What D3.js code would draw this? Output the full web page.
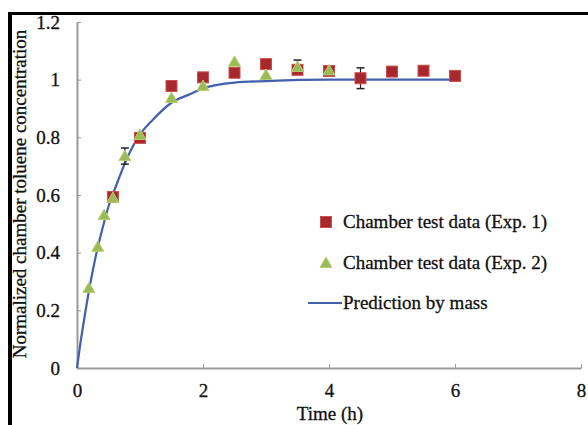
<!DOCTYPE html>
<html lang="en">
  <head>
    <meta charset="utf-8">
    <title>Chamber toluene</title>
    <script src="https://d3js.org/d3.v7.min.js"></script>
    <style>
      body { margin: 0; background: #fff; }
      svg text { font-family: "Liberation Serif", "Times New Roman", serif; fill: #111; stroke: #111; stroke-width: 0.3; }
    </style>
  </head>

  <body>

  <script>

// data

  var exp1Time = [0.57, 1.0, 1.5, 2.0, 2.5, 3.0, 3.5, 4.0, 4.5, 5.0, 5.5, 6.0];
  var exp1Conc = [0.593, 0.798, 0.978, 1.008, 1.024, 1.054, 1.034, 1.03, 1.005, 1.028, 1.031, 1.013];
  var exp1Err  = [0, 0, 0, 0, 0, 0, 0, 0, 0.036, 0, 0, 0];

  var exp2Time = [0.19, 0.33, 0.43, 0.57, 0.76, 1.0, 1.5, 2.0, 2.5, 3.0, 3.5, 4.0];
  var exp2Conc = [0.277, 0.42, 0.53, 0.59, 0.735, 0.808, 0.936, 0.978, 1.062, 1.016, 1.044, 1.032];
  var exp2Err  = [0, 0, 0, 0, 0.028, 0, 0, 0, 0, 0, 0.024, 0];

  var predTime = [0, 0.05, 0.1, 0.2, 0.3, 0.4, 0.5, 0.6, 0.8, 1.0, 1.2, 1.5, 1.8, 2.0, 2.5, 3.0, 4.0, 5.0, 6.0];
  var predConc = [0, 0.08, 0.15, 0.28, 0.39, 0.48, 0.56, 0.62, 0.73, 0.81, 0.86, 0.92, 0.95, 0.97, 0.99, 0.995, 1.0, 1.0, 1.0];

  var xTicks = [0, 2, 4, 6, 8];
  var yTicks = [0, 0.2, 0.4, 0.6, 0.8, 1, 1.2];

  var legendLabels = ["Chamber test data (Exp. 1)", "Chamber test data (Exp. 2)", "Prediction by mass"];

  var w = 588;
  var h = 425;

  var svg = d3.select("body")
    .append("svg")
      .attr("width", w)
      .attr("height", h);

  // black frame on the left and top edges
  svg.append("rect").attr("x", 8).attr("y", 12).attr("width", 4).attr("height", h - 12).attr("fill", "#000");
  svg.append("rect").attr("x", 8).attr("y", 12).attr("width", w - 8).attr("height", 3).attr("fill", "#000");

  var xScale = d3.scaleLinear().domain([0, 8]).range([77, 581]);
  var yScale = d3.scaleLinear().domain([0, 1.2]).range([368, 22]);

  var axisColor = "#9a9a9a";

  // y axis
  var yAxis = svg.append("g")
      .attr("transform", "translate(" + xScale(0) + ",0)")
      .call(d3.axisLeft(yScale).tickValues(yTicks).tickSizeInner(-4).tickSizeOuter(0)
        .tickFormat(d3.format("~g")).tickPadding(17));
  yAxis.select(".domain").attr("stroke", axisColor).attr("stroke-width", 2);
  yAxis.selectAll(".tick line").attr("stroke", axisColor);
  yAxis.selectAll("text").attr("font-size", 19).attr("fill", "#111")
      .attr("font-family", "Liberation Serif, serif");

  // x axis
  var xAxis = svg.append("g")
      .attr("transform", "translate(0," + yScale(0) + ")")
      .call(d3.axisBottom(xScale).tickValues(xTicks).tickSizeInner(-4).tickSizeOuter(0).tickPadding(16));
  xAxis.select(".domain").attr("stroke", axisColor).attr("stroke-width", 2);
  xAxis.selectAll(".tick line").attr("stroke", axisColor);
  xAxis.selectAll("text").attr("font-size", 19).attr("fill", "#111")
      .attr("font-family", "Liberation Serif, serif");

  // axis titles
  svg.append("text")
      .attr("x", (xScale(0) + xScale(8)) / 2 + 1)
      .attr("y", 420)
      .attr("text-anchor", "middle")
      .attr("font-size", 19)
      .text("Time (h)");

  svg.append("text")
      .attr("transform", "translate(26," + 194 + ") rotate(-90)")
      .attr("text-anchor", "middle")
      .attr("font-size", 19)
      .text("Normalized chamber toluene concentration");

  // prediction curve
  var line = d3.line()
      .x((d, i) => xScale(predTime[i]))
      .y(d => yScale(d))
      .curve(d3.curveMonotoneX);

  svg.append("path")
      .datum(predConc)
      .attr("d", line)
      .attr("fill", "none")
      .attr("stroke", "#4360ad")
      .attr("stroke-width", 2.2);

  // error bars
  function errorBars(times, vals, errs) {
    var g = svg.append("g");
    times.forEach(function (t, i) {
      if (!errs[i]) return;
      var x = xScale(t);
      var y0 = yScale(vals[i] - errs[i]);
      var y1 = yScale(vals[i] + errs[i]);
      g.append("line").attr("x1", x).attr("x2", x).attr("y1", y0).attr("y2", y1)
        .attr("stroke", "#222").attr("stroke-width", 1.2);
      [y0, y1].forEach(function (y) {
        g.append("line").attr("x1", x - 4).attr("x2", x + 4).attr("y1", y).attr("y2", y)
          .attr("stroke", "#222").attr("stroke-width", 1.5);
      });
    });
  }
  errorBars(exp1Time, exp1Conc, exp1Err);
  errorBars(exp2Time, exp2Conc, exp2Err);

  var sq = 11;
  var redFill = "#a8282d";
  var redEdge = "#c9504f";
  var greenFill = "#9bbb59";
  var greenEdge = "#b8cc6e";

  // exp 1 squares
  svg.append("g").selectAll("rect")
    .data(exp1Conc)
    .enter().append("rect")
      .attr("x", (d, i) => xScale(exp1Time[i]) - sq / 2)
      .attr("y", d => yScale(d) - sq / 2)
      .attr("width", sq)
      .attr("height", sq)
      .attr("fill", redFill)
      .attr("stroke", redEdge)
      .attr("stroke-width", 1);

  // exp 2 triangles
  var tri = d3.symbol().type(d3.symbolTriangle).size(62);
  svg.append("g").selectAll("path")
    .data(exp2Conc)
    .enter().append("path")
      .attr("d", tri)
      .attr("transform", (d, i) => "translate(" + xScale(exp2Time[i]) + "," + (yScale(d) + 1) + ")")
      .attr("fill", greenFill)
      .attr("stroke", greenEdge)
      .attr("stroke-width", 1);

  // legend
  var legX = 326;
  var legRows = [222, 263, 303];

  var leg = svg.append("g");
  leg.append("rect")
      .attr("x", legX - sq / 2).attr("y", legRows[0] - sq / 2)
      .attr("width", sq).attr("height", sq)
      .attr("fill", redFill).attr("stroke", redEdge);
  leg.append("path")
      .attr("d", tri)
      .attr("transform", "translate(" + legX + "," + (legRows[1] + 1) + ")")
      .attr("fill", greenFill).attr("stroke", greenEdge);
  leg.append("line")
      .attr("x1", 308).attr("x2", 342)
      .attr("y1", legRows[2]).attr("y2", legRows[2])
      .attr("stroke", "#4360ad").attr("stroke-width", 2);

  leg.selectAll("text")
    .data(legendLabels)
    .enter().append("text")
      .attr("x", 343)
      .attr("y", (d, i) => legRows[i] + 6)
      .attr("font-size", 19)
      .text(d => d);

  </script>

  </body>

</html>
